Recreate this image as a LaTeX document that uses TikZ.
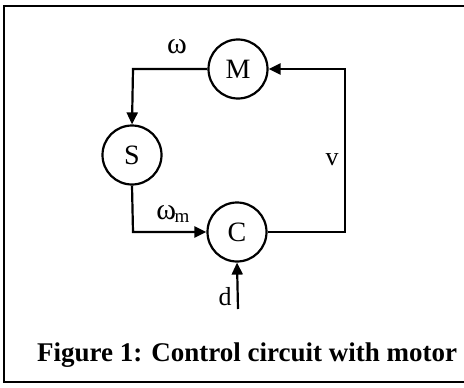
\documentclass[tikz,border=0pt]{standalone}
\usepackage{fontspec}
\setmainfont{Liberation Serif}
\usetikzlibrary{arrows.meta}
\begin{document}
\begin{tikzpicture}[x=1pt,y=-1pt,
  blk/.style={draw,circle,line width=2.2pt,minimum size=59pt,inner sep=0pt,font=\fontsize{28}{28}\selectfont},
  wire/.style={line width=2.2pt},
  arr/.style={wire,-{Triangle[length=12pt,width=11pt]}},
  lbl/.style={font=\fontsize{26}{26}\selectfont,inner sep=0pt}]
\useasboundingbox (0,0) rectangle (464,388);
\draw[line width=2.4pt] (466,6) -- (4,6) -- (4,382) -- (466,382);
\node[blk] (M) at (238,69) {M};
\node[blk] (S) at (132,155) {S};
\node[blk] (C) at (237,232) {C};
\coordinate (tl) at (133,69);
\coordinate (tr) at (345,69);
\coordinate (br) at (345,232);
\coordinate (bl) at (133,232);
\coordinate (dd) at (238,309);
\draw[arr] (M.west) -- (tl) -- (S.north);
\draw[arr] (C.east) -- (br) -- (tr) -- (M.east);
\draw[arr] (S.south) -- (bl) -- (C.west);
\draw[arr] (dd) -- (C.south);
\node[lbl,font=\fontsize{30}{30}\selectfont] (lw) at (177,47) {ω};
\node[lbl] (lv) at (332,160) {v};
\node[lbl] (lwm) at (173,214) {{\fontsize{30}{30}\selectfont ω}\kern-1.5pt\raisebox{-3pt}{\fontsize{19}{19}\selectfont m}};
\node[lbl] (ld) at (225,297) {d};
\node[font=\fontsize{27}{27}\selectfont\bfseries] (cap) at (247,355) {Figure 1: Control circuit with motor};
\end{tikzpicture}
\end{document}
